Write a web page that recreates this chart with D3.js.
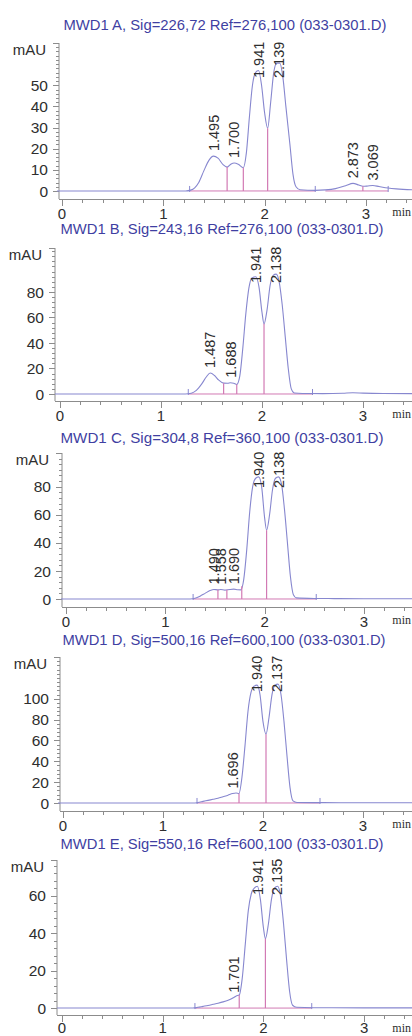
<!DOCTYPE html>
<html>
<head>
<meta charset="utf-8">
<script src="https://cdn.jsdelivr.net/npm/d3@7"></script>
<style>
  html, body { margin:0; padding:0; background:#fff; }
  svg { display:block; font-family:"Liberation Sans", Arial, sans-serif; }
</style>
</head>
<body>
<svg id="chart" width="412" height="1036"></svg>
<script>
// ---- data ----
const titles = [
    "MWD1 A, Sig=226,72 Ref=276,100 (033-0301.D)",
    "MWD1 B, Sig=243,16 Ref=276,100 (033-0301.D)",
    "MWD1 C, Sig=304,8 Ref=360,100 (033-0301.D)",
    "MWD1 D, Sig=500,16 Ref=600,100 (033-0301.D)",
    "MWD1 E, Sig=550,16 Ref=600,100 (033-0301.D)"
];

// [time (min), mAU]
const traceA = [[-0.05,0],[1.22,0],[1.27,0.4],[1.31,1.5],[1.35,4],[1.4,9.5],[1.45,14.5],[1.495,16.5],[1.54,15.5],[1.59,12.5],[1.63,11.3],[1.67,12.8],[1.7,13.2],[1.74,12.6],[1.79,11],[1.82,18],[1.85,35],[1.88,50],[1.91,56],[1.94,57],[1.97,50],[2.0,37],[2.03,29.7],[2.06,42],[2.09,56],[2.12,60.5],[2.15,60.5],[2.18,54],[2.21,40],[2.25,22],[2.28,8],[2.31,2],[2.35,0.6],[2.5,0.3],[2.6,0.5],[2.7,1.1],[2.8,2.5],[2.873,3.6],[2.93,2.8],[2.97,2.2],[3.01,2.3],[3.069,2.6],[3.13,2.1],[3.22,1.4],[3.3,1.0],[3.5,0.5]];
const traceB = [[-0.05,0],[1.24,0],[1.3,0.6],[1.35,2.8],[1.4,7.5],[1.45,13.5],[1.487,16.5],[1.53,14.5],[1.57,11],[1.62,8.5],[1.66,8.4],[1.688,8.8],[1.72,8.4],[1.75,7.5],[1.78,14],[1.81,36],[1.84,63],[1.87,83],[1.9,91],[1.94,92],[1.97,84],[2.0,64],[2.02,55],[2.05,66],[2.08,85],[2.11,93],[2.14,94],[2.17,88],[2.2,70],[2.23,45],[2.26,20],[2.29,4],[2.32,0.8],[2.4,0.4],[2.6,0.3],[2.8,0.6],[2.9,1],[3.0,0.7],[3.2,0.4],[3.5,0.3]];
const traceC = [[-0.05,0],[1.25,0],[1.3,0.5],[1.35,2],[1.4,4],[1.45,6],[1.49,6.8],[1.53,6.5],[1.558,6.8],[1.6,6.3],[1.65,6.8],[1.69,7],[1.73,6.6],[1.76,6.5],[1.79,14],[1.82,35],[1.85,62],[1.88,80],[1.91,86],[1.94,87],[1.97,80],[2.0,58],[2.02,49],[2.05,60],[2.08,78],[2.11,86],[2.14,87],[2.17,82],[2.2,64],[2.23,40],[2.26,16],[2.29,3],[2.32,0.8],[2.5,0.4],[2.7,0.3],[3.0,0.2],[3.5,0.2]];
const traceD = [[-0.05,0],[1.3,0],[1.35,0.5],[1.4,1.5],[1.45,2.5],[1.5,3.5],[1.55,4.5],[1.6,6],[1.65,7.5],[1.696,9],[1.73,9.5],[1.76,9],[1.79,25],[1.82,55],[1.85,88],[1.88,106],[1.91,112],[1.94,113],[1.97,104],[2.0,78],[2.03,66],[2.06,82],[2.09,104],[2.12,113],[2.15,114],[2.18,104],[2.21,78],[2.24,45],[2.27,15],[2.3,2],[2.34,0.5],[2.6,0.3],[3.0,0.2],[3.5,0.2]];
const traceE = [[-0.05,0],[1.3,0],[1.35,0.4],[1.4,0.9],[1.45,1.4],[1.5,2],[1.55,2.6],[1.6,3.3],[1.65,4.2],[1.701,5.5],[1.73,6.5],[1.76,7],[1.79,16],[1.82,34],[1.85,52],[1.88,61],[1.91,64],[1.94,65],[1.97,58],[2.0,43],[2.02,37],[2.05,45],[2.08,58],[2.11,64],[2.14,65],[2.17,60],[2.2,45],[2.23,26],[2.26,9],[2.29,1.5],[2.33,0.4],[2.5,0.2],[3.0,0.1],[3.5,0.1]];

// retention times that get a label
const peaksA = [1.495, 1.700, 1.941, 2.139, 2.873, 3.069];
const peaksB = [1.487, 1.688, 1.941, 2.138];
const peaksC = [1.490, 1.558, 1.690, 1.940, 2.138];
const peaksD = [1.696, 1.940, 2.137];
const peaksE = [1.701, 1.941, 2.135];

// peak boundaries (drop lines) and integration events
const dropsA = [1.63, 1.79, 2.03, 2.97];
const dropsB = [1.62, 1.75, 2.02];
const dropsC = [1.53, 1.62, 1.77, 2.02];
const dropsD = [1.76, 2.03];
const dropsE = [1.76, 2.02];
const eventsA = [1.26, 2.50, 3.22];
const eventsB = [1.27, 2.50];
const eventsC = [1.28, 2.52];
const eventsD = [1.34, 2.57];
const eventsE = [1.32, 2.48];
const baselinesA = [[1.26, 2.50], [2.60, 3.22]];
const baselinesB = [[1.27, 2.50]];
const baselinesC = [[1.28, 2.52]];
const baselinesD = [[1.34, 2.57]];
const baselinesE = [[1.32, 2.48]];

const yDomains = [[-3.8, 70], [-5.5, 114.5], [-5.7, 104], [-7.7, 140], [-3.7, 79]];
const yLabelTicks = [[0,10,20,30,40,50], [0,20,40,60,80], [0,20,40,60,80], [0,20,40,60,80,100], [0,20,40,60]];
const yMinorSteps = [2, 4, 4, 4, 4];
const xMajorTicks = [0, 1, 2, 3];
const xMinorTicks = [0.2,0.4,0.6,0.8,1.2,1.4,1.6,1.8,2.2,2.4,2.6,2.8,3.2,3.4];

// ---- page layout, pixels ----
const frames = [
    { top:43,  bottom:199,  left:59, zero:62, ppm:101.3, titleY:24,  titleX:225 },
    { top:248, bottom:401,  left:55, zero:60, ppm:101,   titleY:228, titleX:222 },
    { top:453, bottom:607,  left:62, zero:66, ppm:99.3,  titleY:437, titleX:222 },
    { top:657, bottom:811,  left:60, zero:63, ppm:100,   titleY:639, titleX:224 },
    { top:860, bottom:1015, left:57, zero:62, ppm:100.7, titleY:843, titleX:222 }
];
const W = 412, H = 1036;

const traces = [traceA, traceB, traceC, traceD, traceE];
const peaks = [peaksA, peaksB, peaksC, peaksD, peaksE];
const drops = [dropsA, dropsB, dropsC, dropsD, dropsE];
const events = [eventsA, eventsB, eventsC, eventsD, eventsE];
const baselines = [baselinesA, baselinesB, baselinesC, baselinesD, baselinesE];

const axisColour = "#8c8c8c";
const traceColour = "#8787cf";
const dropColour = "#d27ab4";
const textColour = "#2e2e2e";

const svg = d3.select("#chart");

// value of a trace at time t (linear between read points)
function valueAt(trace, t) {
    for (let i = 1; i < trace.length; i++) {
        if (trace[i][0] >= t) {
            const a = trace[i-1], b = trace[i];
            return a[1] + (b[1]-a[1]) * (t-a[0]) / (b[0]-a[0]);
        }
    }
    return trace[trace.length-1][1];
}

frames.forEach( (f, i) => {

    const g = svg.append("g");

    const x = d3.scaleLinear()
        .domain( [ (f.left - f.zero) / f.ppm, (W - f.zero) / f.ppm ] )
        .range( [f.left, W] );
    const y = d3.scaleLinear()
        .domain( yDomains[i] )
        .range( [f.bottom, f.top] );

    // title
    g.append("text")
        .attr("x", f.titleX)
        .attr("y", f.titleY + 1)
        .attr("dy", "0.36em")
        .attr("text-anchor", "middle")
        .attr("font-size", 15)
        .attr("textLength", 323)
        .attr("lengthAdjust", "spacingAndGlyphs")
        .attr("fill", "#3f3fa2")
        .text(titles[i]);

    // y axis: line, minor + major ticks, labels
    const yMax = yDomains[i][1];
    const minor = d3.range(0, yMax + 0.01, yMinorSteps[i]);
    g.append("line")
        .attr("x1", f.left).attr("x2", f.left)
        .attr("y1", f.top).attr("y2", f.bottom)
        .attr("stroke", axisColour);
    g.selectAll(".ym").data(minor).enter().append("line")
        .attr("x1", f.left - 3).attr("x2", f.left)
        .attr("y1", v => Math.round(y(v)) + 0.5).attr("y2", v => Math.round(y(v)) + 0.5)
        .attr("stroke", axisColour);
    g.selectAll(".yM").data(yLabelTicks[i].concat([yMax])).enter().append("line")
        .attr("x1", f.left - 6).attr("x2", f.left)
        .attr("y1", v => Math.round(y(v)) + 0.5).attr("y2", v => Math.round(y(v)) + 0.5)
        .attr("stroke", axisColour);
    g.selectAll(".yl").data(yLabelTicks[i]).enter().append("text")
        .attr("x", f.left - 11)
        .attr("y", v => y(v))
        .attr("dy", "0.36em")
        .attr("text-anchor", "end")
        .attr("font-size", 15.5)
        .attr("fill", textColour)
        .text(v => v);
    g.append("text")
        .attr("x", f.left - 13)
        .attr("y", f.top + 7)
        .attr("dy", "0.36em")
        .attr("text-anchor", "end")
        .attr("font-size", 15)
        .attr("fill", textColour)
        .text("mAU");

    // x axis
    g.append("line")
        .attr("x1", f.left).attr("x2", W)
        .attr("y1", f.bottom + 0.5).attr("y2", f.bottom + 0.5)
        .attr("stroke", axisColour);
    g.selectAll(".xm").data(xMinorTicks).enter().append("line")
        .attr("x1", t => Math.round(x(t)) + 0.5).attr("x2", t => Math.round(x(t)) + 0.5)
        .attr("y1", f.bottom).attr("y2", f.bottom + 4)
        .attr("stroke", axisColour);
    g.selectAll(".xM").data(xMajorTicks).enter().append("line")
        .attr("x1", t => Math.round(x(t)) + 0.5).attr("x2", t => Math.round(x(t)) + 0.5)
        .attr("y1", f.bottom).attr("y2", f.bottom + 7)
        .attr("stroke", axisColour);
    // last panel's labels sit on the page edge, keep them inside
    const xLabelY = Math.min(f.bottom + 20, H - 3);
    g.selectAll(".xl").data(xMajorTicks).enter().append("text")
        .attr("x", t => x(t))
        .attr("y", xLabelY)
        .attr("text-anchor", "middle")
        .attr("font-size", 15)
        .attr("fill", textColour)
        .text(t => t);
    g.append("text")
        .attr("x", W - 1)
        .attr("y", Math.min(f.bottom + 17, H - 4))
        .attr("text-anchor", "end")
        .attr("font-family", "'Liberation Serif', 'Times New Roman', serif")
        .attr("font-size", 12)
        .attr("fill", textColour)
        .text("min");

    // integration baseline (pink, under the trace)
    g.selectAll(".bl").data(baselines[i]).enter().append("line")
        .attr("x1", d => x(d[0])).attr("x2", d => x(d[1]))
        .attr("y1", y(0)).attr("y2", y(0))
        .attr("stroke", dropColour)
        .attr("stroke-width", 1);

    // signal
    const line = d3.line()
        .x(d => x(d[0]))
        .y(d => y(d[1]))
        .curve(d3.curveMonotoneX);
    g.append("path")
        .datum(traces[i])
        .attr("d", line)
        .attr("fill", "none")
        .attr("stroke", traceColour)
        .attr("stroke-width", 1.1);

    // drop lines at peak boundaries
    g.selectAll(".dl").data(drops[i]).enter().append("line")
        .attr("x1", t => x(t)).attr("x2", t => x(t))
        .attr("y1", y(0)).attr("y2", t => y(valueAt(traces[i], t)))
        .attr("stroke", dropColour)
        .attr("stroke-width", 1.2);

    // integration event marks
    g.selectAll(".ev").data(events[i]).enter().append("line")
        .attr("x1", t => x(t)).attr("x2", t => x(t))
        .attr("y1", y(0) + 1).attr("y2", y(0) - 5)
        .attr("stroke", traceColour);

    // peak retention time labels
    const labelLen = 36;
    g.selectAll(".pl").data(peaks[i]).enter().append("text")
        .attr("transform", t => {
            const apex = y(valueAt(traces[i], t));
            const yy = Math.max(apex - 5, f.top + labelLen - 1);
            return `translate(${x(t)},${yy}) rotate(-90)`;
        })
        .attr("dy", "0.36em")
        .attr("text-anchor", "start")
        .attr("font-size", 14.5)
        .attr("fill", textColour)
        .text(t => t.toFixed(3));
});
</script>
</body>
</html>
